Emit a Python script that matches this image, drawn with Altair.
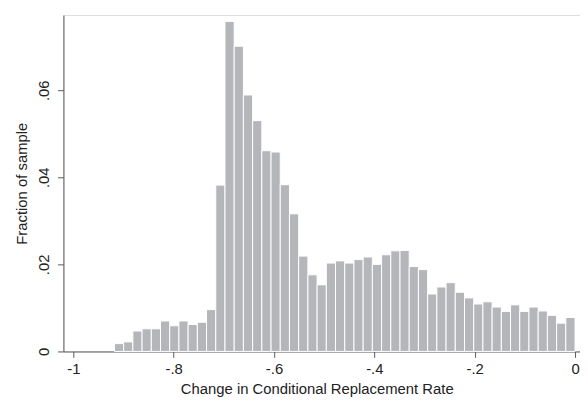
import altair as alt
import pandas as pd

# Histogram of change in conditional replacement rate (50 equal-width bins)
bin_start = -0.918
bin_width = 0.01836
fractions = [
    0.0018, 0.0022, 0.0047, 0.0052, 0.0052, 0.0070, 0.0059, 0.0070, 0.0062, 0.0067,
    0.0096, 0.0382, 0.0758, 0.0701, 0.0589, 0.0530, 0.0461, 0.0458, 0.0383, 0.0316,
    0.0219, 0.0176, 0.0153, 0.0203, 0.0208, 0.0203, 0.0211, 0.0217, 0.0200, 0.0222,
    0.0231, 0.0232, 0.0195, 0.0188, 0.0132, 0.0148, 0.0158, 0.0136, 0.0123, 0.0109,
    0.0114, 0.0102, 0.0092, 0.0107, 0.0092, 0.0102, 0.0093, 0.0083, 0.0065, 0.0078,
]
x_ticks = [-1, -0.8, -0.6, -0.4, -0.2, 0]
y_ticks = [0, 0.02, 0.04, 0.06]

df = pd.DataFrame({
    "lo": [bin_start + i * bin_width for i in range(len(fractions))],
    "hi": [bin_start + (i + 1) * bin_width for i in range(len(fractions))],
    "frac": fractions,
})

FONT = "Liberation Sans"
AX = "#5a5a5a"

chart = alt.Chart(df).mark_rect(
    fill="#b5b6ba", stroke="#ffffff", strokeWidth=1
).encode(
    x=alt.X("lo:Q", scale=alt.Scale(domain=[-1.0197, 0.0099], nice=False, zero=False),
            axis=alt.Axis(
                title="Change in Conditional Replacement Rate", values=x_ticks,
                labelExpr="datum.value == 0 ? '0' : (datum.value <= -0.999 ? '-1' : '-' + substring(format(-datum.value, '.1f'), 1))",
                grid=False, domainColor=AX, tickColor=AX, tickSize=6,
                labelFont=FONT, labelFontSize=15, labelColor="#222222", labelPadding=4,
                titleFont=FONT, titleFontSize=15, titleColor="#222222", titleFontWeight="normal",
                titleX=256, titleY=42, titleBaseline="alphabetic", titleAnchor="start", titleAlign="center",
                labelFlush=False)),
    x2="hi:Q",
    y=alt.Y("frac:Q", scale=alt.Scale(domain=[0, 0.07727], nice=False),
            axis=alt.Axis(
                title="Fraction of sample", values=y_ticks,
                labelExpr="datum.value == 0 ? '0' : substring(format(datum.value, '.2f'), 1)",
                grid=False, domainColor=AX, tickColor=AX, tickSize=6,
                labelAngle=270, labelAlign="center", labelBaseline="bottom", labelPadding=6,
                labelFont=FONT, labelFontSize=15, labelColor="#222222",
                titleFont=FONT, titleFontSize=15, titleColor="#222222", titleFontWeight="normal",
                titleAngle=270, titleX=-37, titleY=170, titleBaseline="alphabetic", titleAlign="center",
                labelFlush=False)),
    y2=alt.datum(0),
).properties(
    width=522, height=340,
    autosize=alt.AutoSizeParams(type="none"),
    padding={"left": 56, "top": 5, "right": 0, "bottom": 48},
).configure_view(stroke=None).configure(background="white")

chart.save("out.html", embed_options={"renderer": "svg", "actions": False})
